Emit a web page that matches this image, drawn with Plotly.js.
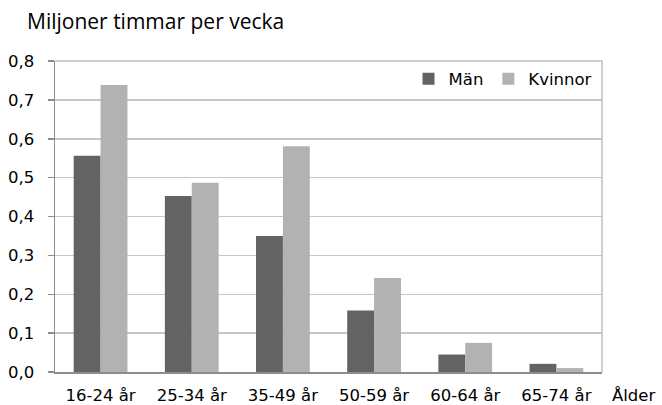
<!DOCTYPE html>
<html>
<head>
<meta charset="utf-8">
<script src="https://cdn.plot.ly/plotly-3.0.1.min.js"></script>
<style>body{margin:0;background:#fff}#chart{width:662px;height:405px}</style>
</head>
<body>
<div id="chart"></div>
<script>
// age groups and hours (millions per week)
var ageGroups = ['16-24 år', '25-34 år', '35-49 år', '50-59 år', '60-64 år', '65-74 år'];
var men = [0.556, 0.453, 0.350, 0.158, 0.045, 0.021];
var women = [0.738, 0.487, 0.581, 0.242, 0.075, 0.010];
var yTicks = [0, 0.1, 0.2, 0.3, 0.4, 0.5, 0.6, 0.7, 0.8];
var yTickText = yTicks.map(function(v) { return v.toFixed(1).replace('.', ','); });

var font = {family: 'DejaVu Sans, Arial, sans-serif', size: 16.5, color: '#000'};

var data = [
    {type: 'bar', name: 'Män', x: ageGroups, y: men, marker: {color: '#636363'}},
    {type: 'bar', name: 'Kvinnor', x: ageGroups, y: women, marker: {color: '#b2b2b2'}}
];

var layout = {
    width: 662,
    height: 405,
    margin: {l: 55, r: 60, t: 61, b: 33},
    paper_bgcolor: '#fff',
    plot_bgcolor: '#fff',
    font: font,
    barmode: 'group',
    bargap: 0.41,
    bargroupgap: 0,
    showlegend: true,
    legend: {
        orientation: 'h',
        x: 0.99, xanchor: 'right',
        y: 0.942, yanchor: 'middle',
        bgcolor: 'rgba(0,0,0,0)',
        font: font,
        itemwidth: 30,
        traceorder: 'normal'
    },
    xaxis: {
        type: 'category',
        showline: true,
        linecolor: '#8c8c8c',
        linewidth: 1.5,
        ticks: '',
        ticklabelstandoff: 8,
        tickfont: font,
        showgrid: false,
        fixedrange: true
    },
    yaxis: {
        range: [0, 0.8],
        tickvals: yTicks,
        ticktext: yTickText,
        ticks: 'outside',
        ticklen: 6,
        tickwidth: 1.5,
        tickcolor: '#8c8c8c',
        ticklabelstandoff: 10,
        showline: true,
        linecolor: '#8c8c8c',
        linewidth: 1.5,
        gridcolor: '#c6c6c6',
        gridwidth: 1.5,
        zeroline: false,
        tickfont: font,
        fixedrange: true
    },
    shapes: [
        {type: 'path', xref: 'paper', yref: 'paper', path: 'M0,1 L1,1 L1,0',
         line: {color: '#c0c0c0', width: 1.5}}
    ],
    annotations: [
        {text: 'Miljoner timmar per vecka', xref: 'paper', yref: 'paper', x: -0.055, y: 1.129,
         xanchor: 'left', yanchor: 'middle', showarrow: false,
         font: {family: 'Open Sans, sans-serif', size: 21, color: '#000'}},
        {text: 'Ålder', xref: 'paper', yref: 'paper', x: 1.0146, y: -0.074,
         xanchor: 'left', yanchor: 'middle', showarrow: false, font: font}
    ]
};

Plotly.newPlot('chart', data, layout, {displayModeBar: false, staticPlot: true});
</script>
</body>
</html>
